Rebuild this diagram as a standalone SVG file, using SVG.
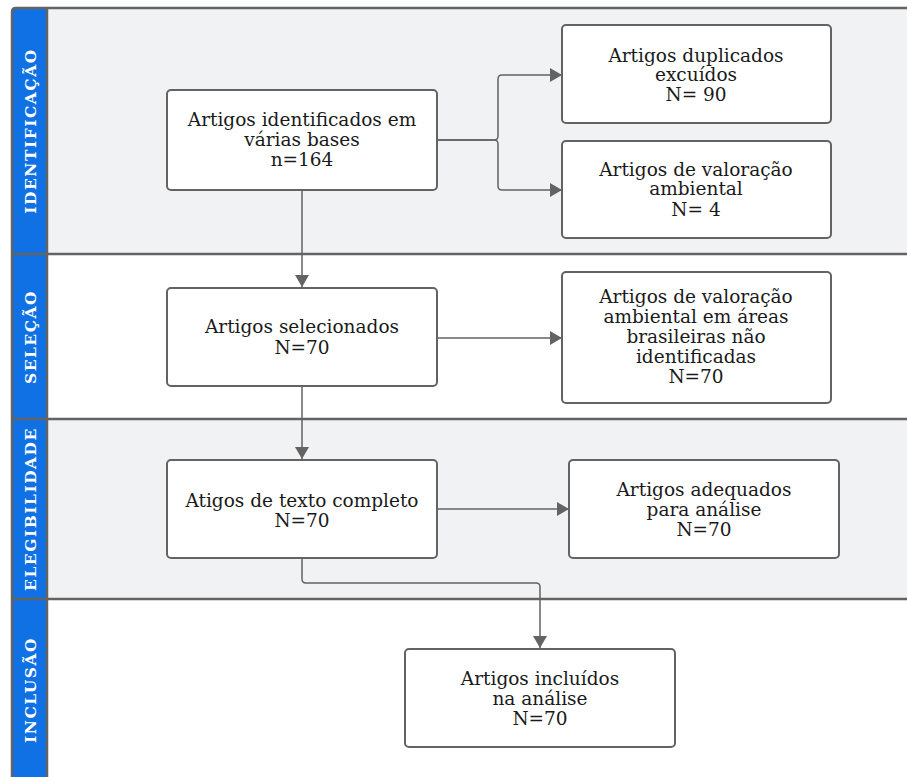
<svg xmlns="http://www.w3.org/2000/svg" width="907" height="777" viewBox="0 0 907 777">
<style>
.lane-g{fill:#f1f2f4}
.lane-w{fill:#ffffff}
.frame{fill:none;stroke:#636363;stroke-width:2.5}
.band{fill:#1071e5}
.lbl{font-family:"DejaVu Serif","Liberation Serif",serif;font-weight:bold;font-size:15.5px;fill:#ffffff;letter-spacing:1.5px}
.box{fill:#ffffff;stroke:#636363;stroke-width:2}
.t{font-family:"DejaVu Serif","Liberation Serif",serif;font-size:18.5px;fill:#1a1a1a;text-anchor:middle}
.c{fill:none;stroke:#636363;stroke-width:1.5}
</style>
<defs>
<marker id="arr" markerUnits="userSpaceOnUse" markerWidth="13" markerHeight="14" refX="12" refY="7" orient="auto">
<path d="M0,0 L12,7 L0,14 Z" fill="#636363"/>
</marker>
</defs>
<g id="lanes">
<path class="lane-g" d="M16,8 H907 V254 H12 V12 Q12,8 16,8 Z"/>
<rect class="lane-w" x="12" y="254" width="895" height="165"/>
<rect class="lane-g" x="12" y="419" width="895" height="180"/>
<rect class="lane-w" x="12" y="599" width="895" height="178"/>
<path class="band" d="M16,8 H47 V777 H12 V12 Q12,8 16,8 Z"/>
<path class="frame" d="M907,8 H16 Q12,8 12,12 V777"/>
<path class="frame" d="M47,8 V777"/>
<path class="frame" d="M12,254 H907 M12,419 H907 M12,599 H907"/>
<text class="lbl" transform="translate(36,131) rotate(-90)" text-anchor="middle">IDENTIFICAÇÃO</text>
<text class="lbl" transform="translate(36,337) rotate(-90)" text-anchor="middle">SELEÇÃO</text>
<text class="lbl" transform="translate(36,509) rotate(-90)" text-anchor="middle">ELEGIBILIDADE</text>
<text class="lbl" transform="translate(36,690) rotate(-90)" text-anchor="middle">INCLUSÃO</text>
</g>
<g id="connectors">
<path class="c" d="M437,140 H494 Q498,140 498,136 V79 Q498,75 502,75 H562" marker-end="url(#arr)"/>
<path class="c" d="M437,140 H494 Q498,140 498,144 V186 Q498,190 502,190 H562" marker-end="url(#arr)"/>
<path class="c" d="M302,190 V287" marker-end="url(#arr)"/>
<path class="c" d="M437,338 H562" marker-end="url(#arr)"/>
<path class="c" d="M302,386 V459" marker-end="url(#arr)"/>
<path class="c" d="M437,509 H569" marker-end="url(#arr)"/>
<path class="c" d="M302,558 V579 Q302,583 306,583 H536 Q540,583 540,587 V648" marker-end="url(#arr)"/>
</g>
<g id="n1">
<rect class="box" x="167" y="90" width="270" height="100" rx="4"/>
<text class="t" x="302" y="126">Artigos identificados em</text>
<text class="t" x="302" y="146">várias bases</text>
<text class="t" x="302" y="166">n=164</text>
</g>
<g id="n2">
<rect class="box" x="562" y="25" width="269" height="98" rx="4"/>
<text class="t" x="696" y="62">Artigos duplicados</text>
<text class="t" x="696" y="81">excuídos</text>
<text class="t" x="696" y="101">N= 90</text>
</g>
<g id="n3">
<rect class="box" x="562" y="141" width="269" height="97" rx="4"/>
<text class="t" x="696" y="176">Artigos de valoração</text>
<text class="t" x="696" y="195">ambiental</text>
<text class="t" x="696" y="216">N= 4</text>
</g>
<g id="n4">
<rect class="box" x="167" y="288" width="270" height="98" rx="4"/>
<text class="t" x="302" y="333">Artigos selecionados</text>
<text class="t" x="302" y="354">N=70</text>
</g>
<g id="n5">
<rect class="box" x="562" y="272" width="269" height="131" rx="4"/>
<text class="t" x="696" y="303">Artigos de valoração</text>
<text class="t" x="696" y="323">ambiental em áreas</text>
<text class="t" x="696" y="343">brasileiras não</text>
<text class="t" x="696" y="363">identificadas</text>
<text class="t" x="696" y="383">N=70</text>
</g>
<g id="n6">
<rect class="box" x="167" y="460" width="270" height="98" rx="4"/>
<text class="t" x="302" y="507">Atigos de texto completo</text>
<text class="t" x="302" y="527">N=70</text>
</g>
<g id="n7">
<rect class="box" x="569" y="460" width="270" height="98" rx="4"/>
<text class="t" x="704" y="496">Artigos adequados</text>
<text class="t" x="704" y="516">para análise</text>
<text class="t" x="704" y="536">N=70</text>
</g>
<g id="n8">
<rect class="box" x="405" y="649" width="270" height="98" rx="4"/>
<text class="t" x="540" y="685">Artigos incluídos</text>
<text class="t" x="540" y="705">na análise</text>
<text class="t" x="540" y="725">N=70</text>
</g>
</svg>
